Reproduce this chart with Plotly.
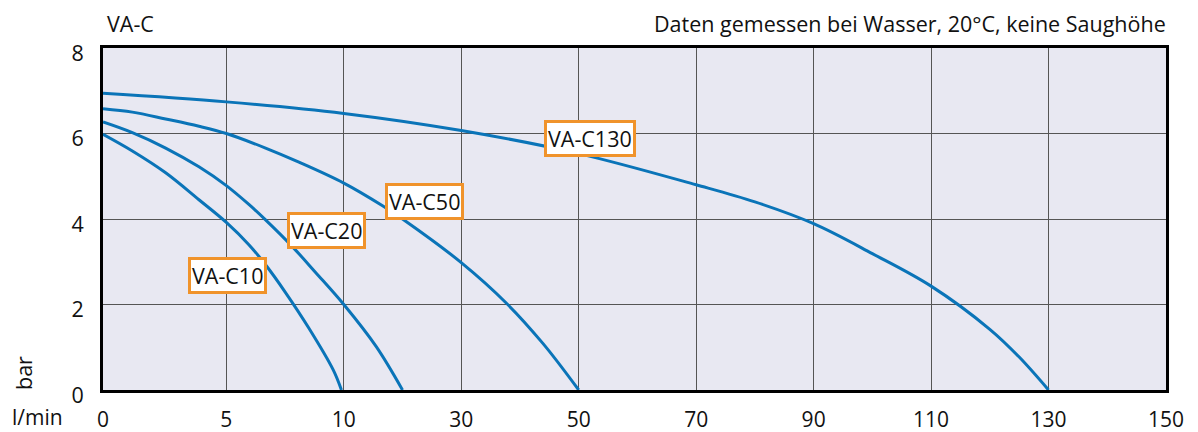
import numpy as np
import plotly.graph_objects as go

# Axis ticks (non-linear flow scale, equally spaced ticks)
tick_flow = [0, 5, 10, 30, 50, 70, 90, 110, 130, 150]
tick_labels = ["0", "5", "10", "30", "50", "70", "90", "110", "130", "150"]
y_ticks = [0, 2, 4, 6, 8]

# Curves: flow (l/min) and pressure (bar)
c10_flow = [0, 1.19, 2.54, 3.89, 5, 5.96, 6.67, 7.52, 8.51, 9.55, 9.9]
c10_bar = [5.98, 5.59, 5.08, 4.45, 3.92, 3.40, 2.93, 2.28, 1.45, 0.47, 0]

c20_flow = [0, 1.19, 2.54, 3.89, 5, 5.96, 6.67, 7.8, 8.8, 10, 15.5, 20]
c20_bar = [6.27, 6.02, 5.66, 5.22, 4.78, 4.34, 3.98, 3.36, 2.75, 2.0, 1.02, 0]

c50_flow = [0, 1.19, 2.54, 3.89, 5, 6.67, 8.09, 10, 16.6, 20, 30, 37.7, 43.9, 50]
c50_bar = [6.58, 6.5, 6.34, 6.17, 6.0, 5.66, 5.33, 4.84, 4.31, 4.0, 2.98, 2.03, 1.09, 0]

c130_flow = [0, 5, 10, 30, 50, 70, 80, 90, 100, 110, 120, 125, 130]
c130_bar = [6.94, 6.74, 6.47, 6.07, 5.53, 4.80, 4.40, 3.89, 3.19, 2.43, 1.42, 0.77, 0]

curve_names = ["VA-C10", "VA-C20", "VA-C50", "VA-C130"]
curve_flows = [c10_flow, c20_flow, c50_flow, c130_flow]
curve_bars = [c10_bar, c20_bar, c50_bar, c130_bar]

# label anchor points (flow, bar)
label_flow = [5.07, 9.28, 23.7, 51.9]
label_bar = [2.68, 3.72, 4.41, 5.89]

# axis position of each tick (equal spacing; zero sits at the frame edge)
tick_pos = [-0.05] + list(range(1, len(tick_flow)))


def to_pos(q):
    return np.interp(q, tick_flow, tick_pos)


BLUE = "#0a74b8"
ORANGE = "#f0932b"
FONT = "Open Sans"
FS = 21.5

fig = go.Figure()
for name, fl, br in zip(curve_names, curve_flows, curve_bars):
    fig.add_trace(go.Scatter(
        x=to_pos(fl), y=br, mode="lines", name=name,
        line=dict(color=BLUE, width=3, shape="spline", smoothing=1.0),
        showlegend=False, hoverinfo="skip"))

for name, lf, lb in zip(curve_names, label_flow, label_bar):
    fig.add_annotation(
        x=float(to_pos(lf)), y=lb, text=name, showarrow=False,
        font=dict(family=FONT, size=FS, color="#111"),
        bgcolor="white", bordercolor=ORANGE, borderwidth=3, borderpad=1,
        xanchor="center", yanchor="middle")

fig.add_annotation(xref="paper", yref="paper", x=0, y=1, xanchor="left",
                   yanchor="middle", xshift=2, yshift=25, text="VA-C",
                   showarrow=False, font=dict(family=FONT, size=FS, color="#111"))
fig.add_annotation(xref="paper", yref="paper", x=1, y=1, xanchor="right",
                   yanchor="middle", xshift=2, yshift=25,
                   text="Daten gemessen bei Wasser, 20°C, keine Saughöhe",
                   showarrow=False, font=dict(family=FONT, size=FS, color="#111"))
fig.add_annotation(xref="paper", yref="paper", x=0, y=0, xanchor="center",
                   yanchor="middle", xshift=-66, yshift=-27, text="l/min",
                   showarrow=False, font=dict(family=FONT, size=21, color="#111"))
fig.add_annotation(xref="paper", yref="paper", x=0, y=0, xanchor="center",
                   yanchor="middle", xshift=-80, yshift=17, text="bar",
                   textangle=-90, showarrow=False,
                   font=dict(family=FONT, size=FS, color="#111"))

fig.update_layout(
    width=1198, height=432,
    margin=dict(l=103, r=32, t=48, b=42, autoexpand=False),
    paper_bgcolor="white", plot_bgcolor="#e8e8f2",
    font=dict(family=FONT, size=FS, color="#111"),
    xaxis=dict(range=[tick_pos[0], tick_pos[-1]], tickvals=tick_pos,
               ticktext=tick_labels, showgrid=True, gridcolor="#555",
               gridwidth=1, showline=True, linecolor="black", linewidth=3,
               mirror=True, zeroline=False, ticks="", ticklabelstandoff=9,
               tickfont=dict(family=FONT, size=21, color="#111"),
               automargin=False, fixedrange=True),
    yaxis=dict(range=[0, 8], tickvals=y_ticks, showgrid=True, gridcolor="#555",
               gridwidth=1, showline=True, linecolor="black", linewidth=3,
               mirror=True, zeroline=False, ticks="", ticklabelstandoff=12,
               ticklabelshift=5, automargin=False, fixedrange=True),
)

fig.write_html(
    "out.html",
    config={"displayModeBar": False, "staticPlot": True},
    post_script="document.body.style.margin='0';"
                "document.documentElement.style.overflow='hidden';")
